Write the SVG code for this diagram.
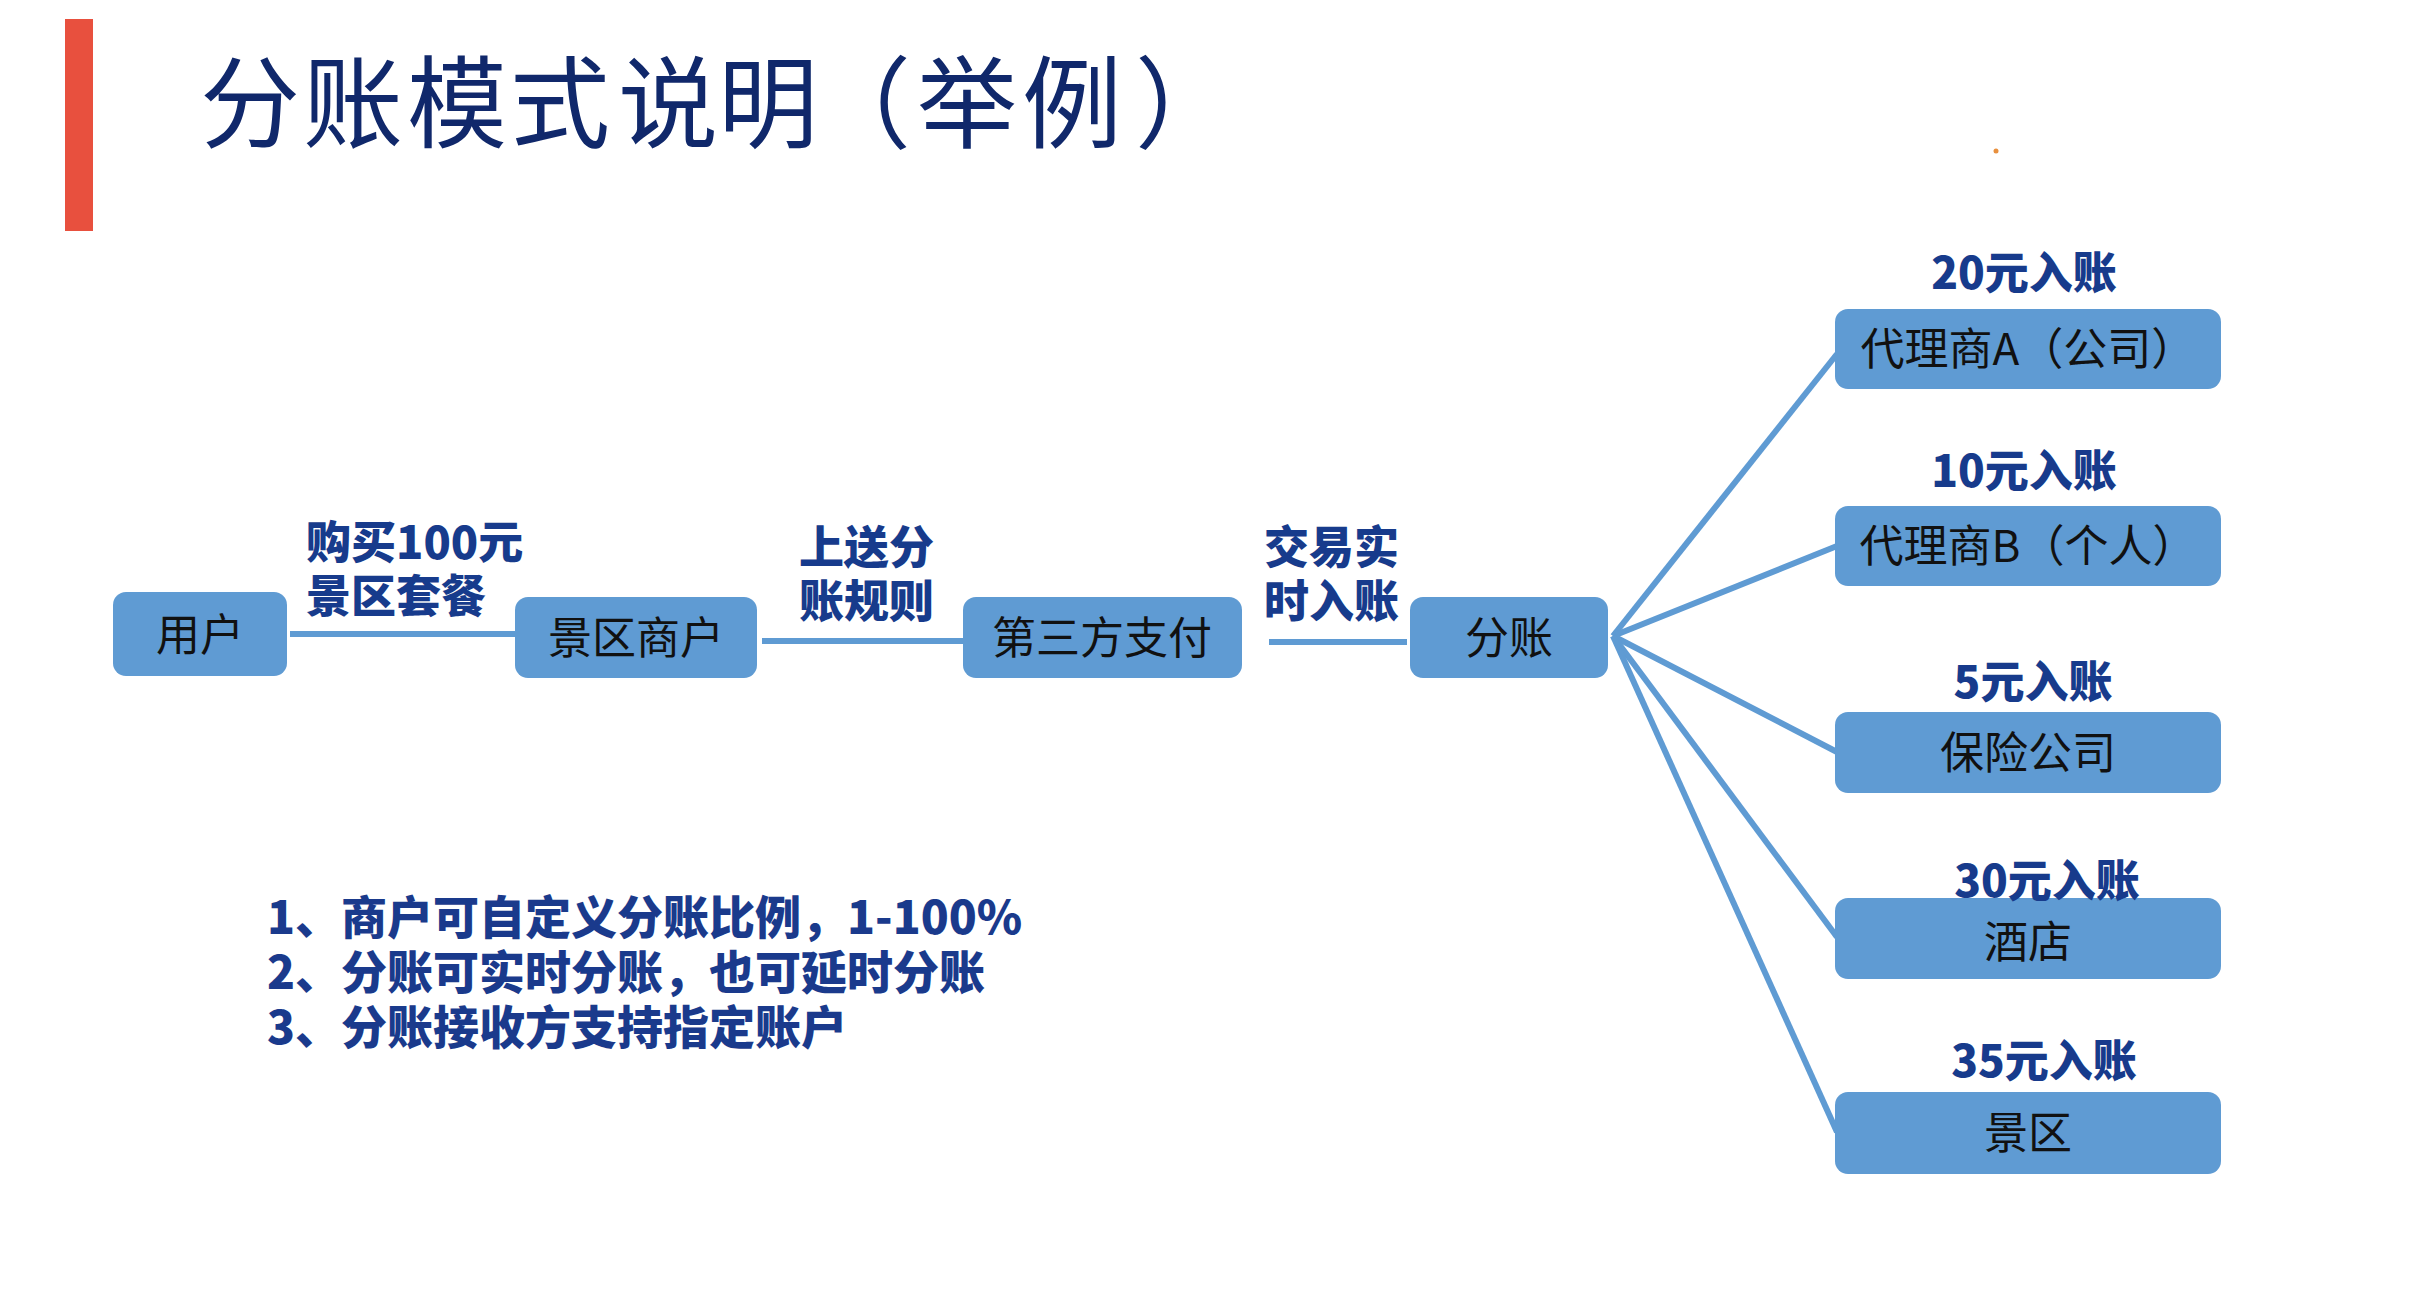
<svg xmlns="http://www.w3.org/2000/svg" width="2432" height="1306" viewBox="0 0 2432 1306">
<style>
text{text-spacing-trim:space-all;}
.node rect{fill:#5f9bd3;}
.ntext{font-family:"Noto Sans CJK SC","Liberation Sans",sans-serif;font-size:44px;fill:#111;text-anchor:middle;dominant-baseline:central;}
.lbl{font-family:"Noto Sans CJK SC","Liberation Sans",sans-serif;font-size:45px;font-weight:900;fill:#173b8c;}
.amt{font-family:"Noto Sans CJK SC","Liberation Sans",sans-serif;font-size:44px;font-weight:900;fill:#173b8c;text-anchor:middle;dominant-baseline:central;}
.note{font-family:"Noto Sans CJK SC","Liberation Sans",sans-serif;font-size:46px;font-weight:900;fill:#1a3a8c;}
.conn line{stroke:#5f9bd3;stroke-width:6;stroke-linecap:butt;}
</style>
<rect width="2432" height="1306" fill="#ffffff"/>
<rect x="65" y="19" width="28" height="212" fill="#e8503e"/>
<text x="200 303 407 510 618 718 811 917 1022 1135" y="140" font-family="Noto Sans CJK SC, Liberation Serif, serif" font-size="100" fill="#10286b">分账模式说明（举例）</text>
<circle cx="1996" cy="151" r="2.5" fill="#e8903e"/>

<g id="connectors" class="conn">
<line x1="290" y1="634" x2="515" y2="634"/>
<line x1="762" y1="641" x2="963" y2="641"/>
<line x1="1269" y1="642" x2="1407" y2="642"/>
<line x1="1613" y1="636" x2="1837" y2="354"/>
<line x1="1613" y1="636" x2="1837" y2="546"/>
<line x1="1613" y1="636" x2="1837" y2="752"/>
<line x1="1613" y1="636" x2="1837" y2="937"/>
<line x1="1613" y1="636" x2="1837" y2="1132"/>
</g>

<g id="node-user" class="node"><rect x="113" y="592" width="174" height="84" rx="13"/><text class="ntext" x="200" y="632">用户</text></g>
<g id="node-merchant" class="node"><rect x="515" y="597" width="242" height="81" rx="13"/><text class="ntext" x="636" y="635">景区商户</text></g>
<g id="node-thirdpay" class="node"><rect x="963" y="597" width="279" height="81" rx="13"/><text class="ntext" x="1102" y="635">第三方支付</text></g>
<g id="node-split" class="node"><rect x="1410" y="597" width="198" height="81" rx="13"/><text class="ntext" x="1509" y="635">分账</text></g>
<g id="node-agentA" class="node"><rect x="1835" y="309" width="386" height="80" rx="13"/><text class="ntext" x="2028" y="346">代理商A（公司）</text></g>
<g id="node-agentB" class="node"><rect x="1835" y="506" width="386" height="80" rx="13"/><text class="ntext" x="2028" y="543">代理商B（个人）</text></g>
<g id="node-insurance" class="node"><rect x="1835" y="712" width="386" height="81" rx="13"/><text class="ntext" x="2028" y="750">保险公司</text></g>
<g id="node-hotel" class="node"><rect x="1835" y="898" width="386" height="81" rx="13"/><text class="ntext" x="2028" y="939">酒店</text></g>
<g id="node-scenic" class="node"><rect x="1835" y="1092" width="386" height="82" rx="13"/><text class="ntext" x="2028" y="1130">景区</text></g>

<g id="edge-labels">
<text class="lbl" x="306" y="559">购买100元<tspan x="306" dy="54">景区套餐</tspan></text>
<text class="lbl" x="799" y="564">上送分<tspan x="799" dy="54">账规则</tspan></text>
<text class="lbl" x="1264" y="564">交易实<tspan x="1264" dy="54">时入账</tspan></text>
<text class="amt" x="2024" y="270">20元入账</text>
<text class="amt" x="2024" y="468">10元入账</text>
<text class="amt" x="2033" y="679">5元入账</text>
<text class="amt" x="2047" y="878">30元入账</text>
<text class="amt" x="2044" y="1058">35元入账</text>
</g>

<g id="notes">
<text class="note" x="267" y="934">1、商户可自定义分账比例，1-100%</text>
<text class="note" x="267" y="989">2、分账可实时分账，也可延时分账</text>
<text class="note" x="267" y="1044">3、分账接收方支持指定账户</text>
</g>
</svg>
